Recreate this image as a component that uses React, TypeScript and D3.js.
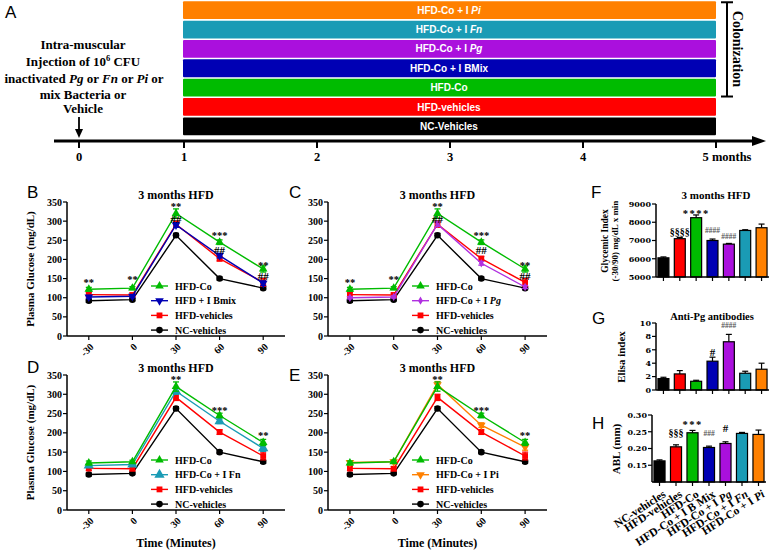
import React from "react";
import * as d3 from "d3";

const SERIF = "'Liberation Serif','Times New Roman',serif";
const SANS = "'Liberation Sans',Arial,sans-serif";
const WIDE = "'DejaVu Serif',serif";

const cBlack = "#000000";
const cRed = "#FF0000";
const cGreen = "#00BB00";
const cBlue = "#0000B4";
const cPurple = "#AA10DD";
const cPurpleLine = "#B030E0";
const cTeal = "#1A9BB5";
const cOrange = "#FF8000";

// ---------- Panel A ----------
const timelineTicks = [0, 1, 2, 3, 4, 5];
const timelineTickLabels = ["0", "1", "2", "3", "4", "5 months"];
const timelineGroups = [
  "HFD-Co + I Pi",
  "HFD-Co + I Fn",
  "HFD-Co + I Pg",
  "HFD-Co + I BMix",
  "HFD-Co",
  "HFD-vehicles",
  "NC-Vehicles",
];
const timelineColors = [cOrange, cTeal, cPurple, cBlue, cGreen, cRed, cBlack];
const colonizedCount = 5;

// ---------- Panels B–E ----------
const timePoints = ["-30", "0", "30", "60", "90"];
const glucoseTicks = [0, 50, 100, 150, 200, 250, 300, 350];
const hfdCo = [122, 125, 320, 245, 175];
const hfdCoErr = [5, 4, 12, 6, 8];
const hfdVeh = [108, 107, 292, 202, 140];
const hfdVehErr = [6, 5, 8, 6, 10];
const ncVeh = [92, 95, 263, 150, 125];
const ncVehErr = [4, 3, 5, 4, 4];
const bmixVals = [102, 104, 290, 210, 138];
const bmixErr = [4, 4, 6, 6, 6];
const pgVals = [100, 102, 292, 190, 128];
const pgErr = [3, 3, 6, 5, 4];
const fnVals = [115, 118, 308, 230, 160];
const fnErr = [4, 4, 8, 6, 8];
const piVals = [123, 125, 325, 220, 163];
const piErr = [4, 4, 8, 6, 8];

const annotBC = [
  { i: 0, t: "**", v: 130 },
  { i: 1, t: "**", v: 138 },
  { i: 2, t: "**", v: 329 },
  { i: 2, t: "##", v: 295 },
  { i: 3, t: "***", v: 253 },
  { i: 3, t: "##", v: 214 },
  { i: 4, t: "**", v: 175 },
  { i: 4, t: "##", v: 146 },
];
const annotDE = [
  { i: 2, t: "**", v: 329 },
  { i: 3, t: "***", v: 250 },
  { i: 4, t: "**", v: 184 },
];

// ---------- Panels F–H ----------
const groups = [
  "NC-vehicles",
  "HFD-vehicles",
  "HFD-Co",
  "HFD-Co + I B Mix",
  "HFD-Co + I Pg",
  "HFD-Co + I Fn",
  "HFD-Co + I Pi",
];
const groupColors = [cBlack, cRed, cGreen, cBlue, cPurple, cTeal, cOrange];

const glycemic = [6050, 7100, 8250, 7000, 6800, 7550, 7700];
const glycemicErr = [50, 70, 150, 80, 40, 40, 200];
const glycemicTicks = [5000, 6000, 7000, 8000, 9000];
const annotF = [
  { i: 1, t: "§§§§", v: 7274 },
  { i: 2, t: "****", v: 8290 },
  { i: 3, t: "####", v: 7411 },
  { i: 4, t: "####", v: 7082 },
];

const elisa = [1.7, 2.4, 1.3, 4.3, 7.2, 2.5, 3.1];
const elisaErr = [0.2, 0.5, 0.15, 0.6, 1.1, 0.3, 0.9];
const elisaTicks = [0, 2, 4, 6, 8, 10];
const annotG = [
  { i: 3, t: "#", v: 5.1 },
  { i: 4, t: "####", v: 9.25 },
];

const abl = [0.163, 0.205, 0.247, 0.203, 0.215, 0.245, 0.242];
const ablErr = [0.003, 0.006, 0.007, 0.004, 0.005, 0.003, 0.013];
const ablTicks = [0.15, 0.2, 0.25, 0.3];
const annotH = [
  { i: 1, t: "§§§", v: 0.236 },
  { i: 2, t: "***", v: 0.261 },
  { i: 3, t: "###", v: 0.237 },
  { i: 4, t: "#", v: 0.249 },
];

const italicWords = new Set(["Pg", "Fn", "Pi"]);

function LabelSpans({ label, italic }: { label: string; italic: boolean }) {
  const words = label.split(" ");
  return (
    <>
      {words.map((w, k) => (
        <tspan key={k} fontStyle={italic && italicWords.has(w) ? "italic" : "normal"}>
          {(k > 0 ? " " : "") + w}
        </tspan>
      ))}
    </>
  );
}

function Marker({ type, cx, cy, color }: { type: string; cx: number; cy: number; color: string }) {
  let path = "";
  let rot = 0;
  if (type === "circle") path = d3.symbol(d3.symbolCircle, 34)() as string;
  else if (type === "square") path = d3.symbol(d3.symbolSquare, 34)() as string;
  else if (type === "triUp") path = d3.symbol(d3.symbolTriangle, 32)() as string;
  else if (type === "triUpBig") path = d3.symbol(d3.symbolTriangle, 46)() as string;
  else if (type === "triDown") {
    path = d3.symbol(d3.symbolTriangle, 32)() as string;
    rot = 180;
  } else if (type === "diamond") path = d3.symbol(d3.symbolDiamond, 20)() as string;
  return <path d={path} transform={`translate(${cx},${cy}) rotate(${rot})`} fill={color} />;
}

type Series = { name: string; vals: number[]; err: number[]; color: string; sym: string; italic?: boolean };

function annotSize(t: string) {
  if (t.startsWith("#")) return t.length >= 3 ? 7.5 : 11;
  if (t.startsWith("§")) return 10;
  return 10.5;
}

function LinePanel(props: {
  ox: number;
  xEnd: number;
  y0: number;
  yTop: number;
  treatment: Series;
  annots: { i: number; t: string; v: number }[];
  letter: string;
  letterX: number;
  letterY: number;
  yLabel: boolean;
  xTitle: boolean;
}) {
  const { ox, xEnd, y0, yTop, treatment, annots, letter, letterX, letterY, yLabel, xTitle } = props;
  const x = d3.scalePoint<string>().domain(timePoints).range([ox, xEnd]).padding(0.5);
  const y = d3.scaleLinear().domain([0, 350]).range([y0, yTop]);
  const series: Series[] = [
    { name: "NC-vehicles", vals: ncVeh, err: ncVehErr, color: cBlack, sym: "circle" },
    { name: "HFD-vehicles", vals: hfdVeh, err: hfdVehErr, color: cRed, sym: "square" },
    treatment,
    { name: "HFD-Co", vals: hfdCo, err: hfdCoErr, color: cGreen, sym: "triUp" },
  ];
  const legend = [series[3], series[2], series[1], series[0]];
  const line = d3
    .line<number>()
    .x((_, i) => x(timePoints[i]) as number)
    .y((d) => y(d));
  const cx = (ox + xEnd) / 2;
  return (
    <g>
      <text x={letterX} y={letterY} fontFamily={SANS} fontSize={17}>
        {letter}
      </text>
      <text x={cx} y={yTop - 3} textAnchor="middle" fontFamily={SERIF} fontWeight="bold" fontSize={12}>
        3 months HFD
      </text>
      {yLabel && (
        <text
          transform={`translate(${ox - 33},${(y0 + yTop) / 2}) rotate(-90)`}
          textAnchor="middle"
          fontFamily={SERIF}
          fontWeight="bold"
          fontSize={11}
        >
          Plasma Glucose (mg/dL)
        </text>
      )}
      {xTitle && (
        <text x={cx} y={547} textAnchor="middle" fontFamily={SERIF} fontWeight="bold" fontSize={12}>
          Time (Minutes)
        </text>
      )}
      {/* axes */}
      <line x1={ox} x2={ox} y1={y0} y2={yTop} stroke="#000" strokeWidth={1.5} />
      <line x1={ox} x2={xEnd} y1={y0} y2={y0} stroke="#000" strokeWidth={1.5} />
      {glucoseTicks.map((t) => (
        <g key={t}>
          <line x1={ox - 4} x2={ox} y1={y(t)} y2={y(t)} stroke="#000" strokeWidth={1.2} />
          <text x={ox - 5} y={y(t)} dy="0.35em" textAnchor="end" fontFamily={SERIF} fontWeight="bold" fontSize={10}>
            {t}
          </text>
        </g>
      ))}
      {timePoints.map((t) => (
        <g key={t}>
          <line x1={x(t)} x2={x(t)} y1={y0} y2={y0 + 4} stroke="#000" strokeWidth={1.2} />
          <text
            transform={`translate(${(x(t) as number) + 3},${y0 + 9}) rotate(-45)`}
            textAnchor="end"
            dy="0.35em"
            fontFamily={SERIF}
            fontWeight="bold"
            fontSize={10}
          >
            {t}
          </text>
        </g>
      ))}
      {/* series */}
      {series.map((s) => (
        <g key={s.name}>
          <path d={line(s.vals) as string} fill="none" stroke={s.color} strokeWidth={1.4} />
          {s.vals.map((v, i) => {
            const px = x(timePoints[i]) as number;
            return (
              <g key={i}>
                <line x1={px} x2={px} y1={y(v - s.err[i])} y2={y(v + s.err[i])} stroke={s.color} strokeWidth={1.3} />
                <line x1={px - 3} x2={px + 3} y1={y(v + s.err[i])} y2={y(v + s.err[i])} stroke={s.color} strokeWidth={1.3} />
                <line x1={px - 3} x2={px + 3} y1={y(v - s.err[i])} y2={y(v - s.err[i])} stroke={s.color} strokeWidth={1.3} />
                <Marker type={s.sym} cx={px} cy={y(v)} color={s.color} />
              </g>
            );
          })}
        </g>
      ))}
      {annots.map((a, k) => (
        <text
          key={k}
          x={x(timePoints[a.i])}
          y={y(a.v)}
          textAnchor="middle"
          fontFamily={SERIF}
          fontWeight="bold"
          fontSize={annotSize(a.t)}
        >
          {a.t}
        </text>
      ))}
      {/* legend */}
      {legend.map((s, k) => {
        const ly = y0 - 50 + k * 14.7;
        return (
          <g key={s.name}>
            <line x1={ox + 84} x2={ox + 101} y1={ly} y2={ly} stroke={s.color} strokeWidth={1.4} />
            <Marker type={s.sym} cx={ox + 92.5} cy={ly} color={s.color} />
            <text x={ox + 108} y={ly} dy="0.35em" fontFamily={SERIF} fontWeight="bold" fontSize={10}>
              <LabelSpans label={s.name} italic={!!s.italic} />
            </text>
          </g>
        );
      })}
    </g>
  );
}

function BarPanel(props: {
  ax: number;
  xEnd: number;
  domain: [number, number];
  range: [number, number];
  ticks: number[];
  fmt: (v: number) => string;
  values: number[];
  errs: number[];
  annots: { i: number; t: string; v: number }[];
}) {
  const { ax, xEnd, domain, range, ticks, fmt, values, errs, annots } = props;
  const x = d3.scaleBand<string>().domain(groups).range([ax, xEnd]).paddingInner(0.33).paddingOuter(0.12);
  const y = d3.scaleLinear().domain(domain).range(range);
  const bw = x.bandwidth();
  return (
    <g>
      {values.map((v, i) => {
        const bx = x(groups[i]) as number;
        const c = bx + bw / 2;
        return (
          <g key={i}>
            <line x1={c} x2={c} y1={y(v)} y2={y(v + errs[i])} stroke="#000" strokeWidth={1.2} />
            <line x1={c - 3} x2={c + 3} y1={y(v + errs[i])} y2={y(v + errs[i])} stroke="#000" strokeWidth={1.2} />
            <rect x={bx} y={y(v)} width={bw} height={y(domain[0]) - y(v)} fill={groupColors[i]} stroke="#000" strokeWidth={1.2} />
          </g>
        );
      })}
      <line x1={ax} x2={ax} y1={range[0]} y2={range[1]} stroke="#000" strokeWidth={1.5} />
      <line x1={ax} x2={xEnd} y1={range[0]} y2={range[0]} stroke="#000" strokeWidth={1.5} />
      {ticks.map((t) => (
        <g key={t}>
          <line x1={ax - 4} x2={ax} y1={y(t)} y2={y(t)} stroke="#000" strokeWidth={1.2} />
          <text x={ax - 5} y={y(t)} dy="0.35em" textAnchor="end" fontFamily={WIDE} fontWeight="bold" fontSize={8}>
            {fmt(t)}
          </text>
        </g>
      ))}
      {groups.map((g) => (
        <line
          key={g}
          x1={(x(g) as number) + bw / 2}
          x2={(x(g) as number) + bw / 2}
          y1={range[0]}
          y2={range[0] + 4}
          stroke="#000"
          strokeWidth={1.2}
        />
      ))}
      {annots.map((a, k) => (
        <text
          key={k}
          x={(x(groups[a.i]) as number) + bw / 2}
          y={y(a.v)}
          textAnchor="middle"
          fontFamily={SERIF}
          fontWeight="bold"
          fontSize={annotSize(a.t)}
          letterSpacing={a.t.startsWith("*") ? 1.5 : 0}
          fill={a.t.length >= 3 && a.t.startsWith("#") ? "#555" : "#000"}
        >
          {a.t}
        </text>
      ))}
    </g>
  );
}

function PanelA() {
  const xA = d3.scaleLinear().domain([0, 1, 5]).range([79, 184, 716]);
  const yBand = d3.scaleBand<string>().domain(timelineGroups).range([0.5, 136]).paddingInner(0.08).paddingOuter(0.04);
  const bh = yBand.bandwidth();
  const brTop = yBand(timelineGroups[0]) as number;
  const brBot = (yBand(timelineGroups[colonizedCount - 1]) as number) + bh;
  const axisY = 141;
  return (
    <g>
      <text x={5} y={18} fontFamily={SANS} fontSize={17}>
        A
      </text>
      {timelineGroups.map((g, i) => {
        const by = yBand(g) as number;
        return (
          <g key={g}>
            <rect x={xA(1) - 1} y={by} width={xA(5) - xA(1) + 1} height={bh} fill={timelineColors[i]} rx={1} />
            <text
              x={449}
              y={by + bh / 2}
              dy="0.36em"
              textAnchor="middle"
              fontFamily={SANS}
              fontWeight="bold"
              fontSize={10}
              fill="#fff"
            >
              <LabelSpans label={g} italic={true} />
            </text>
          </g>
        );
      })}
      {/* bracket */}
      <line x1={727} x2={727} y1={brTop + 1} y2={brBot} stroke="#000" strokeWidth={2} />
      <line x1={721} x2={733} y1={brTop + 1} y2={brTop + 1} stroke="#000" strokeWidth={2} />
      <line x1={721} x2={733} y1={brBot} y2={brBot} stroke="#000" strokeWidth={2} />
      <text
        transform={`translate(733,${(brTop + brBot) / 2}) rotate(90)`}
        textAnchor="middle"
        fontFamily={SERIF}
        fontWeight="bold"
        fontSize={14}
      >
        Colonization
      </text>
      {/* axis */}
      <line x1={54} x2={757} y1={axisY} y2={axisY} stroke="#000" strokeWidth={3} />
      <path d={`M752,${axisY - 5} L766,${axisY} L752,${axisY + 5} Z`} fill="#000" />
      {timelineTicks.map((t, i) => (
        <g key={t}>
          <line x1={xA(t)} x2={xA(t)} y1={axisY} y2={axisY + 7} stroke="#000" strokeWidth={2} />
          <text
            x={i === timelineTicks.length - 1 ? xA(t) + 11 : xA(t)}
            y={161}
            textAnchor="middle"
            fontFamily={SERIF}
            fontWeight="bold"
            fontSize={12.5}
          >
            {timelineTickLabels[i]}
          </text>
        </g>
      ))}
      {/* injection text */}
      <g fontFamily={SERIF} fontWeight="bold" fontSize={13} textAnchor="middle">
        <text x={83} y={49}>Intra-muscular</text>
        <text x={83} y={66}>
          Injection of 10
          <tspan fontSize={8.5} dy={-5}>
            6
          </tspan>
          <tspan dy={5}> CFU</tspan>
        </text>
        <text x={84} y={83}>
          inactivated <tspan fontStyle="italic">Pg</tspan> or <tspan fontStyle="italic">Fn</tspan> or{" "}
          <tspan fontStyle="italic">Pi</tspan> or
        </text>
        <text x={83} y={99}>mix Bacteria or</text>
        <text x={83} y={113}>Vehicle</text>
      </g>
      <line x1={xA(0)} x2={xA(0)} y1={117} y2={131} stroke="#000" strokeWidth={1.8} />
      <path d={`M${xA(0) - 4},129 L${xA(0)},138 L${xA(0) + 4},129 Z`} fill="#000" />
    </g>
  );
}

export default function App() {
  const f2 = d3.format(".2f");
  const fInt = d3.format("d");
  const hX = d3.scaleBand<string>().domain(groups).range([652, 766]).paddingInner(0.33).paddingOuter(0.12);
  return (
    <svg
      width={770}
      height={551}
      viewBox="0 0 770 551"
      style={{ position: "absolute", left: 0, top: 0, background: "#fff" }}
    >
      <rect x={0} y={0} width={770} height={551} fill="#fff" />
      <PanelA />
      <LinePanel
        ox={67}
        xEnd={285}
        y0={336}
        yTop={202}
        treatment={{ name: "HFD + I Bmix", vals: bmixVals, err: bmixErr, color: cBlue, sym: "triDown" }}
        annots={annotBC}
        letter="B"
        letterX={27}
        letterY={198}
        yLabel={true}
        xTitle={false}
      />
      <LinePanel
        ox={328}
        xEnd={547}
        y0={336}
        yTop={202}
        treatment={{ name: "HFD-Co + I Pg", vals: pgVals, err: pgErr, color: cPurpleLine, sym: "diamond", italic: true }}
        annots={annotBC}
        letter="C"
        letterX={289}
        letterY={198}
        yLabel={false}
        xTitle={false}
      />
      <LinePanel
        ox={67}
        xEnd={285}
        y0={510}
        yTop={375}
        treatment={{ name: "HFD-Co + I Fn", vals: fnVals, err: fnErr, color: cTeal, sym: "triUpBig" }}
        annots={annotDE}
        letter="D"
        letterX={27}
        letterY={373}
        yLabel={true}
        xTitle={true}
      />
      <LinePanel
        ox={328}
        xEnd={547}
        y0={510}
        yTop={375}
        treatment={{ name: "HFD-Co + I Pi", vals: piVals, err: piErr, color: cOrange, sym: "triDown" }}
        annots={annotDE}
        letter="E"
        letterX={289}
        letterY={381}
        yLabel={false}
        xTitle={true}
      />
      {/* Panel F */}
      <text x={591} y={198} fontFamily={SANS} fontSize={17}>
        F
      </text>
      <text x={716} y={199} textAnchor="middle" fontFamily={SERIF} fontWeight="bold" fontSize={11}>
        3 months HFD
      </text>
      <text transform="translate(608,241) rotate(-90)" textAnchor="middle" fontFamily={SERIF} fontWeight="bold" fontSize={9.5}>
        Glycemic Index
      </text>
      <text transform="translate(618,241) rotate(-90)" textAnchor="middle" fontFamily={SERIF} fontWeight="bold" fontSize={9}>
        (-30/90) mg/dL x min
      </text>
      <BarPanel
        ax={656}
        xEnd={769}
        domain={[5000, 9000]}
        range={[277, 204]}
        ticks={glycemicTicks}
        fmt={fInt}
        values={glycemic}
        errs={glycemicErr}
        annots={annotF}
      />
      {/* Panel G */}
      <text x={592} y={324} fontFamily={SANS} fontSize={17}>
        G
      </text>
      <text x={712} y={320} textAnchor="middle" fontFamily={SERIF} fontWeight="bold" fontSize={10.5}>
        Anti-Pg antibodies
      </text>
      <text transform="translate(625,357) rotate(-90)" textAnchor="middle" fontFamily={SERIF} fontWeight="bold" fontSize={11}>
        Elisa index
      </text>
      <BarPanel
        ax={656}
        xEnd={769}
        domain={[0, 10]}
        range={[390, 323]}
        ticks={elisaTicks}
        fmt={fInt}
        values={elisa}
        errs={elisaErr}
        annots={annotG}
      />
      {/* Panel H */}
      <text x={592} y={429} fontFamily={SANS} fontSize={17}>
        H
      </text>
      <text transform="translate(620,449) rotate(-90)" textAnchor="middle" fontFamily={SERIF} fontWeight="bold" fontSize={11}>
        ABL (mm)
      </text>
      <BarPanel
        ax={652}
        xEnd={766}
        domain={[0.1, 0.3]}
        range={[482, 415]}
        ticks={ablTicks}
        fmt={f2}
        values={abl}
        errs={ablErr}
        annots={annotH}
      />
      {groups.map((g) => (
        <text
          key={g}
          transform={`translate(${(hX(g) as number) + hX.bandwidth() / 2 + 7},${496}) rotate(-33)`}
          textAnchor="end"
          fontFamily={SERIF}
          fontWeight="bold"
          fontSize={11.5}
        >
          <LabelSpans label={g} italic={true} />
        </text>
      ))}
    </svg>
  );
}
